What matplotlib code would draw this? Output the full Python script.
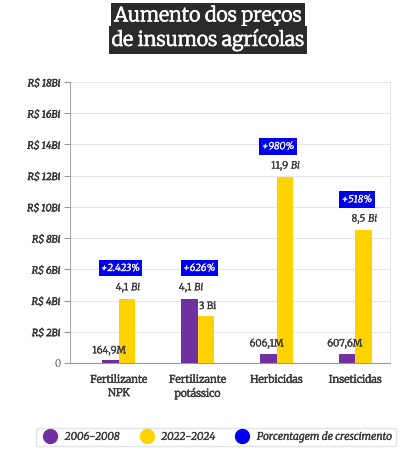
import matplotlib
matplotlib.use("Agg")
import matplotlib.pyplot as plt
import matplotlib.patheffects as pe
from matplotlib.lines import Line2D

categories = ["Fertilizante\nNPK", "Fertilizante\npotássico", "Herbicidas", "Inseticidas"]
v_2006 = [0.1649, 4.1, 0.6061, 0.6076]
v_2022 = [4.1, 3.0, 11.9, 8.5]
lbl_2006 = ["164,9M", "4,1$\\ \\mathit{Bi}$", "606,1M", "607,6M"]
lbl_2022 = ["4,1$\\ \\mathit{Bi}$", "3 Bi", "11,9$\\ \\mathit{Bi}$", "8,5$\\ \\mathit{Bi}$"]
growth = ["+2.423%", "+626%", "+980%", "+518%"]
yticks = [0, 2, 4, 6, 8, 10, 12, 14, 16, 18]
yticklabels = ["0"] + [f"R$ {v}Bi" for v in yticks[1:]]
legend_labels = ["2006-2008", "2022-2024", "Porcentagem de crescimento"]

PURPLE = "#7030a0"
YELLOW = "#ffd200"
BLUE = "#0000ee"
TXT = "#3a3a3a"
FONT = ["Merriweather", "DejaVu Serif"]

plt.rcParams['font.family'] = FONT
plt.rcParams['mathtext.fontset'] = 'custom'
plt.rcParams['mathtext.rm'] = 'Merriweather'
plt.rcParams['mathtext.it'] = 'Merriweather:italic'
plt.rcParams['mathtext.bf'] = 'Merriweather:bold'


def heavy(c, lw=0.35):
    return [pe.withStroke(linewidth=lw, foreground=c)]


fig = plt.figure(figsize=(4.16, 4.74), dpi=100)
ax = fig.add_axes([70/416, 1-363/474, 320/416, 281/474])

w = 0.21
x = list(range(len(categories)))
ax.bar([i - w/2 for i in x], v_2006, width=w, color=PURPLE, zorder=3)
ax.bar([i + w/2 for i in x], v_2022, width=w, color=YELLOW, zorder=3)

for i in x:
    ax.annotate(lbl_2006[i], (i + w/2 - 0.015, v_2006[i]), xytext=(0, 3),
                textcoords="offset points", ha="right", va="bottom",
                fontsize=7, color=TXT, path_effects=heavy(TXT, 0.3))
    ax.annotate(lbl_2022[i], (i + w/2 + 0.02, v_2022[i]), xytext=(0, 3),
                textcoords="offset points", ha="center", va="bottom",
                fontsize=7, color=TXT, path_effects=heavy(TXT, 0.3))
    top = max(v_2006[i], v_2022[i])
    ax.annotate(growth[i], (i + 0.02, top), xytext=(0, 18), textcoords="offset points",
                ha="center", va="bottom", fontsize=7, color="white", style="italic",
                path_effects=heavy("white", 0.25),
                bbox=dict(boxstyle="square,pad=0.25", fc=BLUE, ec="none"))

ax.set_xlim(-0.62, 3.44)
ax.set_ylim(0, 18)
ax.set_yticks(yticks)
ax.set_yticklabels(yticklabels)
for t in ax.get_yticklabels()[1:]:
    t.set_style("italic")
    t.set_path_effects(heavy(TXT, 0.45))
ax.tick_params(axis="y", labelsize=7, colors="#999999", labelcolor=TXT, length=4, width=0.8, pad=3)
ax.set_xticks(x)
ax.set_xticklabels(categories, fontsize=7.5, color=TXT)
for t in ax.get_xticklabels():
    t.set_path_effects(heavy(TXT, 0.4))
ax.tick_params(axis="x", length=0, pad=8)
ax.grid(axis="y", color="#e6e6e6", linewidth=0.8, zorder=0)
ax.spines["top"].set_visible(False)
ax.spines["right"].set_color("#e6e6e6")
ax.spines["left"].set_color("#aaaaaa")
ax.spines["bottom"].set_color("#999999")

# title
fig.text(0.5, 1-16/474, "Aumento dos preços", ha="center", va="center", fontsize=14,
         color="white", path_effects=heavy("white", 0.5),
         bbox=dict(boxstyle="square,pad=0.15", fc="#2b2b2b", ec="none"))
fig.text(0.5, 1-40/474, "de insumos agrícolas", ha="center", va="center", fontsize=14,
         color="white", path_effects=heavy("white", 0.5),
         bbox=dict(boxstyle="square,pad=0.15", fc="#2b2b2b", ec="none"))

handles = [Line2D([], [], marker="o", linestyle="none", markersize=10, color=c)
           for c in (PURPLE, YELLOW, BLUE)]
leg = fig.legend(handles, legend_labels,
                 loc="center", bbox_to_anchor=(216/416, 1-437/474), ncol=3,
                 frameon=True, fancybox=True, handletextpad=0.4,
                 columnspacing=1.6, borderpad=0.35, edgecolor="#dddddd",
                 prop=dict(family=FONT, style="italic", size=7.5))
for t in leg.get_texts():
    t.set_color(TXT)
    t.set_path_effects(heavy(TXT, 0.35))

fig.savefig("out.png", dpi=100)
